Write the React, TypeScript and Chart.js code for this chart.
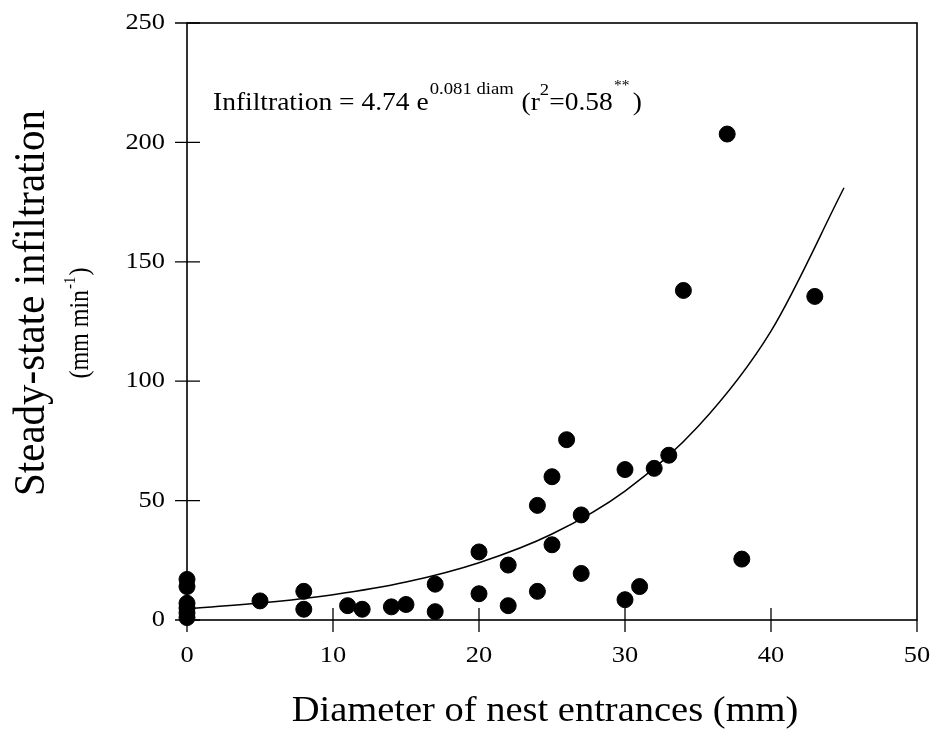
import { useEffect, useRef } from "react";
import { Chart, registerables } from "chart.js";

Chart.register(...registerables);

// Observed points: nest entrance diameter (mm) and steady-state infiltration (mm/min)
const diameters = [0, 0, 0, 0, 0, 0, 5, 8, 8, 11, 12, 14, 15, 17, 17, 20, 20, 22, 22, 24, 24, 25, 25, 26, 27, 27, 30, 30, 31, 32, 33, 34, 37, 38, 43];
const infiltration = [17, 14, 7, 5, 3, 1, 8, 12, 4.5, 6, 4.5, 5.5, 6.5, 15, 3.5, 28.5, 11, 23, 6, 48, 12, 60, 31.5, 75.5, 44, 19.5, 63, 8.5, 14, 63.5, 69, 138, 203.5, 25.5, 135.5];

// Fitted curve
const fitDiameters = [0, 5, 10, 15, 20, 25, 30, 35, 40, 45];
const fitInfiltration = [4.7, 7.1, 10.6, 15.9, 24, 36, 54, 81, 121, 181];

// Tick labels
const xTicks = [0, 10, 20, 30, 40, 50];
const yTicks = [0, 50, 100, 150, 200, 250];

const FONT = '"Liberation Serif", "Times New Roman", serif';
const SX = 1.1;

type Seg = { t: string; size: number; dy?: number; gap?: number };

function richWidth(ctx: CanvasRenderingContext2D, segs: Seg[]) {
  let w = 0;
  for (const s of segs) {
    ctx.font = `${s.size}px ${FONT}`;
    w += (s.gap || 0) + ctx.measureText(s.t).width;
  }
  return w;
}

function drawRich(
  ctx: CanvasRenderingContext2D,
  segs: Seg[],
  x: number,
  y: number,
  rot: boolean,
  align: "left" | "center"
) {
  ctx.save();
  ctx.translate(x, y);
  ctx.scale(SX, 1);
  if (rot) ctx.rotate(-Math.PI / 2);
  ctx.fillStyle = "#000";
  ctx.textAlign = "left";
  ctx.textBaseline = "alphabetic";
  let cx = align === "center" ? -richWidth(ctx, segs) / 2 : 0;
  for (const s of segs) {
    ctx.font = `${s.size}px ${FONT}`;
    cx += s.gap || 0;
    ctx.fillText(s.t, cx, s.dy || 0);
    cx += ctx.measureText(s.t).width;
  }
  ctx.restore();
}

function drawText(
  ctx: CanvasRenderingContext2D,
  t: string,
  x: number,
  y: number,
  size: number,
  align: CanvasTextAlign,
  baseline: CanvasTextBaseline
) {
  ctx.save();
  ctx.translate(x, y);
  ctx.scale(SX, 1);
  ctx.font = `${size}px ${FONT}`;
  ctx.fillStyle = "#000";
  ctx.textAlign = align;
  ctx.textBaseline = baseline;
  ctx.fillText(t, 0, 0);
  ctx.restore();
}

const decorPlugin = {
  id: "decor",
  beforeDatasetsDraw(chart: any) {
    const { ctx, chartArea } = chart;
    const { left, right, top, bottom } = chartArea;
    const xs = chart.scales.x;
    const ys = chart.scales.y;
    ctx.save();
    ctx.strokeStyle = "#000";
    ctx.lineWidth = 1.6;
    ctx.strokeRect(left, top, right - left, bottom - top);
    ctx.lineWidth = 1.3;
    ctx.beginPath();
    for (const v of yTicks) {
      const py = ys.getPixelForValue(v);
      ctx.moveTo(left - 12, py);
      ctx.lineTo(left + 13, py);
    }
    for (const v of xTicks) {
      const px = xs.getPixelForValue(v);
      ctx.moveTo(px, bottom + 12);
      ctx.lineTo(px, v === 0 || v === 50 ? bottom : bottom - 12);
    }
    ctx.stroke();
    ctx.restore();
  },
  afterDraw(chart: any) {
    const { ctx, chartArea } = chart;
    const xs = chart.scales.x;
    const ys = chart.scales.y;
    for (const v of yTicks) {
      drawText(ctx, String(v), chartArea.left - 22, ys.getPixelForValue(v), 24, "right", "middle");
    }
    for (const v of xTicks) {
      drawText(ctx, String(v), xs.getPixelForValue(v), 656, 24, "center", "middle");
    }
    // x-axis title
    drawRich(ctx, [{ t: "Diameter of nest entrances (mm)", size: 35 }], 545, 721, false, "center");
    // y-axis title
    drawRich(ctx, [{ t: "Steady-state infiltration", size: 41 }], 44, 303, true, "center");
    drawRich(
      ctx,
      [
        { t: "(mm min", size: 24 },
        { t: "-1", size: 15, dy: -12, gap: 1 },
        { t: ")", size: 24, gap: 1 },
      ],
      88,
      323,
      true,
      "center"
    );
    // equation annotation
    drawRich(
      ctx,
      [
        { t: "Infiltration = 4.74 e", size: 25 },
        { t: "0.081 diam", size: 17, dy: -16, gap: 1 },
        { t: "(r", size: 25, gap: 7 },
        { t: "2", size: 17, dy: -15, gap: 0 },
        { t: "=0.58", size: 25, gap: 0 },
        { t: "**", size: 14, dy: -20, gap: 1 },
        { t: ")", size: 25, gap: 3 },
      ],
      213,
      110,
      false,
      "left"
    );
  },
};

export default function App() {
  const ref = useRef<HTMLCanvasElement | null>(null);

  useEffect(() => {
    if (!ref.current) return;
    const points = diameters.map((d, i) => ({ x: d, y: infiltration[i] }));
    const fit = fitDiameters.map((d, i) => ({ x: d, y: fitInfiltration[i] }));
    const chart = new Chart(ref.current, {
      type: "scatter",
      data: {
        datasets: [
          {
            type: "line",
            data: fit,
            borderColor: "#000",
            borderWidth: 1.5,
            pointRadius: 0,
            cubicInterpolationMode: "monotone",
            fill: false,
            order: 2,
          } as any,
          {
            type: "scatter",
            data: points,
            backgroundColor: "#000",
            borderColor: "#000",
            pointRadius: 8,
            pointHoverRadius: 8,
            clip: false,
            order: 1,
          } as any,
        ],
      },
      options: {
        animation: false,
        responsive: false,
        maintainAspectRatio: false,
        events: [],
        layout: { padding: { left: 0, right: 15, top: 23, bottom: 0 } },
        plugins: { legend: { display: false }, tooltip: { enabled: false } },
        scales: {
          x: {
            type: "linear",
            min: 0,
            max: 50,
            grid: { display: false, drawTicks: false },
            border: { display: false },
            ticks: { display: false },
            afterBuildTicks: (s: any) => {
              s.ticks = xTicks.map((v) => ({ value: v }));
            },
            afterFit: (s: any) => {
              s.height = 113;
            },
          },
          y: {
            type: "linear",
            min: 0,
            max: 250,
            grid: { display: false, drawTicks: false },
            border: { display: false },
            ticks: { display: false },
            afterBuildTicks: (s: any) => {
              s.ticks = yTicks.map((v) => ({ value: v }));
            },
            afterFit: (s: any) => {
              s.width = 187;
            },
          },
        },
      },
      plugins: [decorPlugin],
    });
    return () => chart.destroy();
  }, []);

  return (
    <div style={{ position: "absolute", left: 0, top: 0, width: 932, height: 733, background: "#fff" }}>
      <canvas ref={ref} width={932} height={733} style={{ width: 932, height: 733, display: "block" }} />
    </div>
  );
}
